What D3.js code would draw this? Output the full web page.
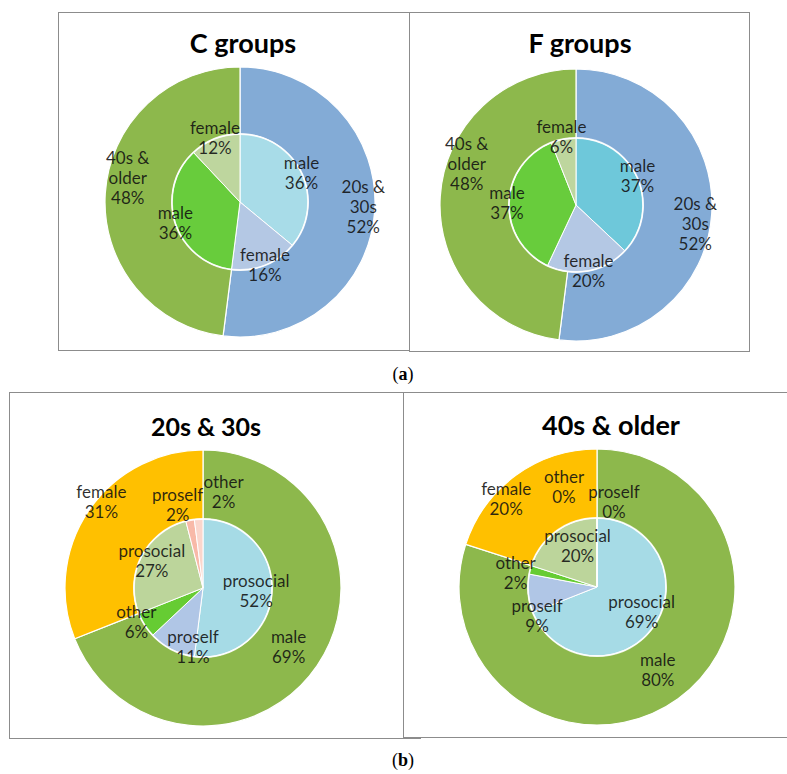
<!DOCTYPE html>
<html>
<head>
<meta charset="utf-8">
<script src="https://cdn.jsdelivr.net/npm/d3@7"></script>
<style>
  body { margin: 0; background: #fff; }
  svg { display: block; }
</style>
</head>
<body>
<svg id="chart" width="787" height="774"></svg>
<script>
// (a) age split of each group, with the gender split inside
const groupNames = ['C groups', 'F groups'];
const ageLabels = ['20s &\n30s', '40s &\nolder'];
const cAge = [52, 48];
const fAge = [52, 48];
const genderLabels = ['male', 'female', 'male', 'female'];
const cGender = [36, 16, 36, 12];
const fGender = [37, 20, 37, 6];

// (b) gender split of each age group, with value orientation inside
const ageNames = ['20s & 30s', '40s & older'];
const sexLabels = ['male', 'female'];
const youngSex = [69, 31];
const oldSex = [80, 20];
const orientLabels = ['prosocial', 'proself', 'other', 'prosocial', 'proself', 'other'];
const youngOrient = [52, 11, 6, 27, 2, 2];
const oldOrient = [69, 9, 2, 20, 0, 0];

const blue = '#83abd6', olive = '#8db84c', orange = '#ffc000';
const genderColorsC = ['#a8dce8', '#b4c8e4', '#68cc3c', '#bed69e'];
const genderColorsF = ['#6ec8da', '#b4c8e4', '#68cc3c', '#bed69e'];
const orientColors = ['#a6dbe6', '#b0c6e6', '#66cc33', '#bcd59b', '#f8b9a8', '#fbd6cc'];

// layout of each pie (label nudges are offsets from the slice centroid)
const charts = [
  { title: groupNames[0], tx: 243, ty: 53, ts: 27, cx: 240, cy: 202, R: 135, r: 68, inR: 1.0,
    outer: cAge, outerLabels: ageLabels, outerColors: [blue, olive],
    inner: cGender, innerLabels: genderLabels, innerColors: genderColorsC,
    outerNudge: [[22, 0], [-11, -17]], innerNudge: [[0, 1], [0, 1], [0, 1], [0, 0]] },
  { title: groupNames[1], tx: 580, ty: 53, ts: 27, cx: 576, cy: 205, R: 136, r: 67, inR: 1.0,
    outer: fAge, outerLabels: ageLabels, outerColors: [blue, olive],
    inner: fGender, innerLabels: genderLabels, innerColors: genderColorsF,
    outerNudge: [[18, 14], [-8, -34]], innerNudge: [[0, -1], [0, 1], [-2, 1], [-2, -1]] },
  { title: ageNames[0], tx: 206, ty: 436, ts: 25, cx: 203, cy: 588, R: 138, r: 69, inR: 0.8,
    outer: youngSex, outerLabels: sexLabels, outerColors: [olive, orange],
    inner: youngOrient, innerLabels: orientLabels, innerColors: orientColors,
    outerNudge: [[0, 2], [-16, -27]],
    innerNudge: [[-2, 1], [15, 11], [-20, 5], [-2, -1], [-15, -28], [24, -40]] },
  { title: ageNames[1], tx: 611, ty: 435, ts: 27, cx: 597, cy: 587, R: 138, r: 69, inR: 0.8,
    outer: oldSex, outerLabels: sexLabels, outerColors: [olive, orange],
    inner: oldOrient, innerLabels: orientLabels, innerColors: orientColors,
    outerNudge: [[0, 0], [-30, -3]],
    // the two zero slices sit at 12 o'clock: proself then other
    innerNudge: [[-1, -5], [-5, 25], [-28, 1], [13, 5], [17, -29], [-33, -44]] }
];

const svg = d3.select('#chart');
svg.append('rect').attr('width', 787).attr('height', 774).attr('fill', '#fff');

// panel frames; the right ones overlap the left ones
const frames = [[58, 12, 372, 338], [409, 12, 340, 339], [9, 392, 411, 346], [403, 392, 400, 345]];
frames.forEach(f => {
  svg.append('rect')
    .attr('x', f[0] + 0.5).attr('y', f[1] + 0.5)
    .attr('width', f[2]).attr('height', f[3])
    .attr('fill', '#fff').attr('stroke', '#8c8c8c').attr('stroke-width', 1);
});

const pie = d3.pie().sort(null).value(d => d);

function addLabel(g, x, y, text) {
  const lines = text.split('\n');
  const t = g.append('text')
    .attr('text-anchor', 'middle')
    .attr('font-family', 'Lato, "Open Sans", sans-serif')
    .attr('font-size', 17)
    .attr('fill', '#111')
    .attr('fill-opacity', 0.88);
  lines.forEach((ln, i) => {
    t.append('tspan')
      .attr('x', x)
      .attr('y', y + 5 + (i - (lines.length - 1) / 2) * 20)
      .text(ln);
  });
}

charts.forEach(c => {
  const g = svg.append('g').attr('transform', `translate(${c.cx},${c.cy})`);

  const outerArc = d3.arc().innerRadius(c.r).outerRadius(c.R);
  const innerArc = d3.arc().innerRadius(0).outerRadius(c.r);
  const outerLabelArc = d3.arc().innerRadius(c.r).outerRadius(c.R);
  const innerLabelArc = d3.arc().innerRadius(c.r * c.inR).outerRadius(c.r * c.inR);

  const outerPie = pie(c.outer);
  const innerPie = pie(c.inner);

  g.selectAll('path.outer')
    .data(outerPie)
    .join('path')
    .attr('class', 'outer')
    .attr('d', outerArc)
    .attr('fill', (d, i) => c.outerColors[i])
    .attr('stroke', '#fff')
    .attr('stroke-width', 1.2);

  g.selectAll('path.inner')
    .data(innerPie)
    .join('path')
    .attr('class', 'inner')
    .attr('d', innerArc)
    .attr('fill', (d, i) => c.innerColors[i])
    .attr('stroke', '#fff')
    .attr('stroke-width', 1);

  g.append('circle')
    .attr('r', c.r)
    .attr('fill', 'none')
    .attr('stroke', '#fff')
    .attr('stroke-opacity', 0.75)
    .attr('stroke-width', 1.8);

  outerPie.forEach((d, i) => {
    const p = outerLabelArc.centroid(d);
    const n = c.outerNudge[i];
    addLabel(g, p[0] + n[0], p[1] + n[1], `${c.outerLabels[i]}\n${d.data}%`);
  });
  innerPie.forEach((d, i) => {
    const p = innerLabelArc.centroid(d);
    const n = c.innerNudge[i];
    addLabel(g, p[0] + n[0], p[1] + n[1], `${c.innerLabels[i]}\n${d.data}%`);
  });

  svg.append('text')
    .attr('x', c.tx).attr('y', c.ty)
    .attr('text-anchor', 'middle')
    .attr('font-family', 'Lato, "Open Sans", sans-serif')
    .attr('font-weight', 'bold')
    .attr('font-size', c.ts)
    .attr('fill', '#000')
    .text(c.title);
});

// panel captions
[['a', 380], ['b', 766]].forEach(([k, y]) => {
  const t = svg.append('text')
    .attr('x', 403).attr('y', y)
    .attr('text-anchor', 'middle')
    .attr('font-family', '"Liberation Serif", "DejaVu Serif", serif')
    .attr('font-size', 18)
    .attr('fill', '#000');
  t.append('tspan').text('(');
  t.append('tspan').attr('font-weight', 'bold').text(k);
  t.append('tspan').text(')');
});
</script>
</body>
</html>
